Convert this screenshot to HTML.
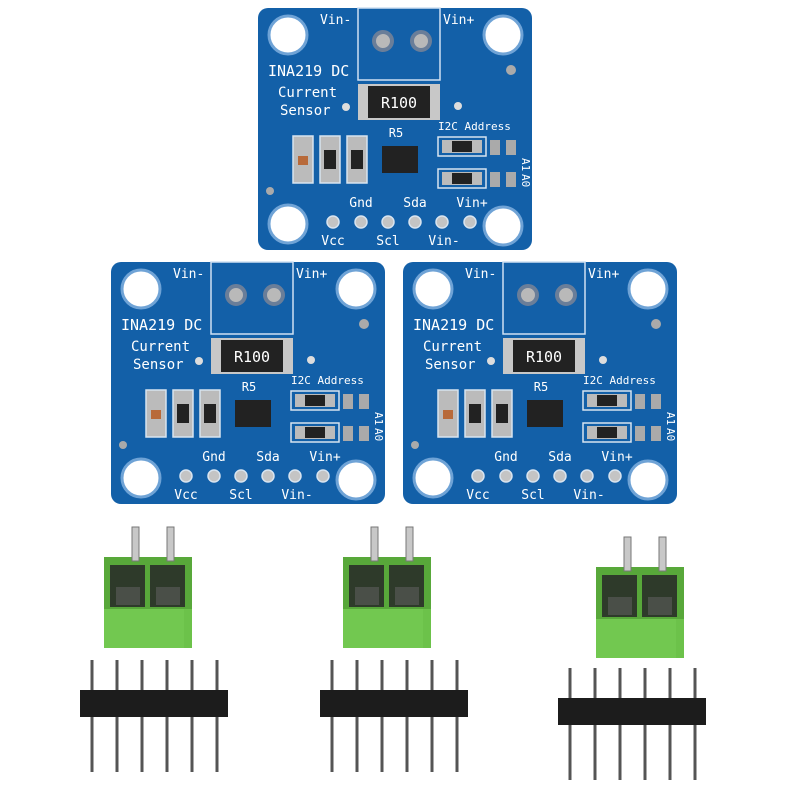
<!DOCTYPE html><html><head><style>body{margin:0;background:#fff}svg{display:block}text{font-family:"DejaVu Sans Mono","Liberation Mono",monospace;fill:#fff}</style></head><body>
<svg width="800" height="800" viewBox="0 0 800 800" xmlns="http://www.w3.org/2000/svg">
<defs>
<g id="tb">
<rect x="0" y="30" width="88" height="91" fill="#6cc24a"/>
<rect x="0" y="30" width="88" height="52" fill="#58a83a"/>
<rect x="6" y="38" width="35" height="42" fill="#2e3a2a"/><rect x="46" y="38" width="35" height="42" fill="#2e3a2a"/>
<rect x="12" y="60" width="24" height="18" fill="#4a4f48"/><rect x="52" y="60" width="24" height="18" fill="#4a4f48"/>
<rect x="0" y="82" width="80" height="39" fill="#72c850"/>
<rect x="28" y="0" width="7" height="34" fill="#c8c8c8" stroke="#777" stroke-width="1"/><rect x="63" y="0" width="7" height="34" fill="#c8c8c8" stroke="#777" stroke-width="1"/>
</g>
<g id="hd">
<g stroke="#555" stroke-width="3"><line x1="12" y1="0" x2="12" y2="112"/><line x1="37" y1="0" x2="37" y2="112"/><line x1="62" y1="0" x2="62" y2="112"/><line x1="87" y1="0" x2="87" y2="112"/><line x1="112" y1="0" x2="112" y2="112"/><line x1="137" y1="0" x2="137" y2="112"/></g>
<rect x="0" y="30" width="148" height="27" fill="#1c1c1c"/>
</g>
</defs>
<!-- boards -->
<g id="b1" transform="translate(258,8)">
<rect x="0" y="0" width="274" height="242" rx="10" fill="#1360a8"/>
<g fill="#fff" stroke="#6fa3d6" stroke-width="3"><circle cx="30" cy="27" r="19"/><circle cx="245" cy="27" r="19"/><circle cx="30" cy="216" r="19"/><circle cx="245" cy="218" r="19"/></g>
<rect x="100" y="0" width="82" height="72" fill="none" stroke="#cfe0f2" stroke-width="1.5"/>
<g fill="#b9b9b9" stroke="#6a7e99" stroke-width="4"><circle cx="125" cy="33" r="9"/><circle cx="163" cy="33" r="9"/></g>
<text x="62" y="16" font-size="13">Vin-</text><text x="185" y="16" font-size="13">Vin+</text>
<text x="10" y="68" font-size="15">INA219 DC</text><text x="20" y="89" font-size="14">Current</text><text x="22" y="107" font-size="14">Sensor</text>
<rect x="100" y="76" width="82" height="36" fill="#c8c8c8"/><rect x="110" y="78" width="62" height="32" fill="#222"/>
<text x="141" y="100" font-size="15" text-anchor="middle" font-family="Liberation Sans,sans-serif">R100</text>
<circle cx="88" cy="99" r="4" fill="#ddd"/><circle cx="200" cy="98" r="4" fill="#ddd"/><circle cx="253" cy="62" r="5" fill="#aaa"/><circle cx="12" cy="183" r="4" fill="#aaa"/>
<g stroke="#d8e4f0" stroke-width="1.5" fill="#bbb"><rect x="35" y="128" width="20" height="47"/><rect x="62" y="128" width="20" height="47"/><rect x="89" y="128" width="20" height="47"/></g>
<rect x="40" y="148" width="10" height="9" fill="#b86a3a"/><rect x="66" y="142" width="12" height="19" fill="#222"/><rect x="93" y="142" width="12" height="19" fill="#222"/>
<rect x="124" y="138" width="36" height="27" fill="#222"/>
<text x="138" y="129" font-size="12" text-anchor="middle">R5</text>
<text x="180" y="122" font-size="11">I2C Address</text>
<g fill="none" stroke="#d8e4f0" stroke-width="1.5"><rect x="180" y="129" width="48" height="19"/><rect x="180" y="161" width="48" height="19"/></g>
<rect x="184" y="132" width="40" height="13" fill="#bbb"/><rect x="194" y="133" width="20" height="11" fill="#222"/>
<rect x="184" y="164" width="40" height="13" fill="#bbb"/><rect x="194" y="165" width="20" height="11" fill="#222"/>
<g fill="#aaa"><rect x="232" y="132" width="10" height="15"/><rect x="248" y="132" width="10" height="15"/><rect x="232" y="164" width="10" height="15"/><rect x="248" y="164" width="10" height="15"/></g>
<text transform="translate(264,150) rotate(90)" font-size="11">A1</text><text transform="translate(264,166) rotate(90)" font-size="11">A0</text>
<g fill="#c4c4c4" stroke="#d8e4f0" stroke-width="1.5"><circle cx="75" cy="214" r="6"/><circle cx="103" cy="214" r="6"/><circle cx="130" cy="214" r="6"/><circle cx="157" cy="214" r="6"/><circle cx="184" cy="214" r="6"/><circle cx="212" cy="214" r="6"/></g>
<g font-size="13" text-anchor="middle"><text x="103" y="199">Gnd</text><text x="157" y="199">Sda</text><text x="214" y="199">Vin+</text><text x="75" y="237">Vcc</text><text x="130" y="237">Scl</text><text x="186" y="237">Vin-</text></g>
</g>
<use href="#b1" transform="translate(-147,254)"/>
<use href="#b1" transform="translate(145,254)"/>
<use href="#tb" transform="translate(104,527)"/>
<use href="#tb" transform="translate(343,527)"/>
<use href="#tb" transform="translate(596,537)"/>
<use href="#hd" transform="translate(80,660)"/>
<use href="#hd" transform="translate(320,660)"/>
<use href="#hd" transform="translate(558,668)"/>
</svg>
</body></html>
